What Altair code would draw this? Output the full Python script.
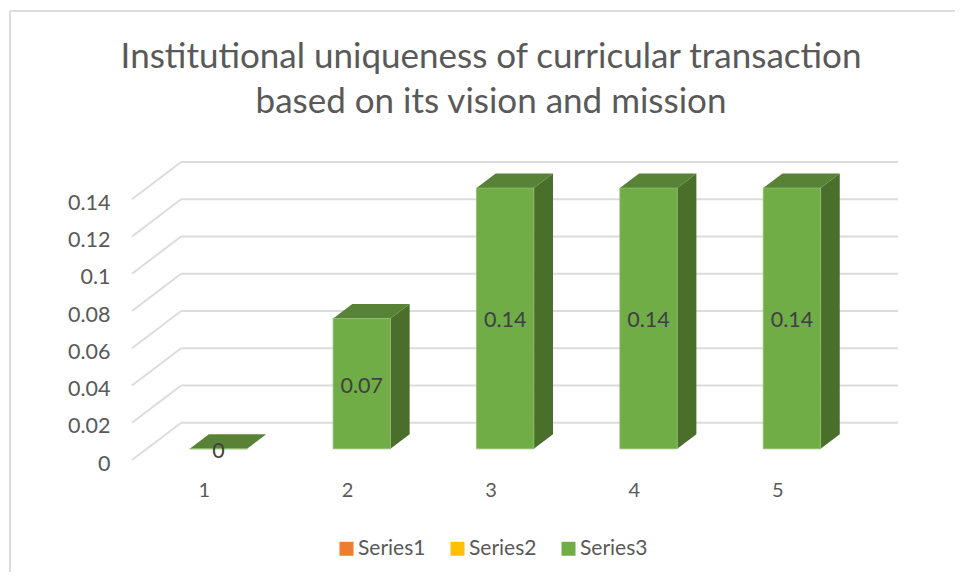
import altair as alt
import pandas as pd

TITLE = ["Institutional uniqueness of curricular transaction", "based on its vision and mission"]
categories = [1, 2, 3, 4, 5]
series_names = ["Series1", "Series2", "Series3"]
series_colors = ["#ED7D31", "#FFC000", "#70AD47"]
series3 = [0, 0.07, 0.14, 0.14, 0.14]
y_ticks = [0, 0.02, 0.04, 0.06, 0.08, 0.1, 0.12, 0.14]

# projection of the 3D box: one unit of depth moves by these amounts
DEPTH_X = 49 / 143
DEPTH_Y = 0.02
Z0, Z1 = 0.30, 0.69
BAR_W = 0.4
X_MIN, X_MAX = 0.5, 5.5 + DEPTH_X
FONT = "Lato"
GRID = "#DCDCDC"

x_scale = alt.Scale(domain=[X_MIN, X_MAX], nice=False, zero=False)
y_scale = alt.Scale(domain=[0, 0.16], nice=False, zero=False)

floor = pd.DataFrame({"x": [X_MIN], "y": [0]})

back = pd.DataFrame([{"x": X_MIN + DEPTH_X, "x2": X_MAX, "y": v + DEPTH_Y, "y2": v + DEPTH_Y} for v in y_ticks])
left = pd.DataFrame([{"x": X_MIN, "x2": X_MIN + DEPTH_X, "y": v, "y2": v + DEPTH_Y} for v in y_ticks])
grid = pd.concat([back, left])

front_rows, top_rows, side_rows, label_rows = [], [], [], []
for c, v in zip(categories, series3):
    x0 = c - BAR_W / 2 + Z0 * DEPTH_X
    x1 = c - BAR_W / 2 + Z1 * DEPTH_X
    y0, y1 = Z0 * DEPTH_Y, Z1 * DEPTH_Y
    front_rows.append({"x": x0, "x2": x0 + BAR_W, "y": y0, "y2": y0 + v, "series": "Series3"})
    top_rows += [
        {"c": c, "y": y0 + v, "x": x0, "x2": x0 + BAR_W},
        {"c": c, "y": y1 + v, "x": x1, "x2": x1 + BAR_W},
    ]
    side_rows += [
        {"c": c, "x": x0 + BAR_W, "y": y0, "y2": y0 + v},
        {"c": c, "x": x1 + BAR_W, "y": y1, "y2": y1 + v},
    ]
    label_rows.append({"x": x0 + BAR_W / 2, "y": y0 + v / 2, "v": v})

front = pd.DataFrame(front_rows)
top = pd.DataFrame(top_rows)
side = pd.DataFrame(side_rows)
labels = pd.DataFrame(label_rows)

X = lambda **k: alt.X("x:Q", scale=x_scale, **k)
Y = lambda **k: alt.Y("y:Q", scale=y_scale, **k)

grid_layer = alt.Chart(grid).mark_rule(color=GRID, strokeWidth=2).encode(
    x=X(
        axis=alt.Axis(
            values=categories, format="d", title=None, domain=False, ticks=False, grid=False,
            labelFont=FONT, labelFontSize=20, labelColor="#595959", labelPadding=20,
        )
    ),
    x2="x2:Q",
    y=Y(
        axis=alt.Axis(
            values=y_ticks, format="~g", title=None, domain=False, ticks=False, grid=False,
            labelFont=FONT, labelFontSize=21.5, labelColor="#595959", labelPadding=22, labelOffset=4,
        )
    ),
    y2="y2:Q",
)

side_layer = alt.Chart(side).mark_area(orient="vertical", color="#4A6F2B", interpolate="linear").encode(
    x=X(), y=Y(), y2="y2:Q", detail="c:N"
)
top_layer = alt.Chart(top).mark_area(orient="horizontal", color="#588235", interpolate="linear").encode(
    y=Y(), x=X(), x2="x2:Q", detail="c:N"
)
front_layer = alt.Chart(front).mark_rect(stroke="#8CBF6C", strokeWidth=0.8).encode(
    x=X(),
    x2="x2:Q",
    y=Y(),
    y2="y2:Q",
    color=alt.Color(
        "series:N",
        scale=alt.Scale(domain=series_names, range=series_colors),
        legend=alt.Legend(
            orient="none", legendX=204, legendY=376, direction="horizontal", title=None,
            symbolType="square", symbolSize=196, symbolStrokeWidth=0, symbolOpacity=1,
            labelFont=FONT, labelFontSize=21, labelColor="#595959", labelOffset=1,
            columnPadding=21, padding=0,
        ),
    ),
)
text_layer = alt.Chart(labels).mark_text(font=FONT, fontSize=21.5, color="#404040", baseline="middle", dy=3).encode(
    x=X(), y=Y(), text=alt.Text("v:Q", format="~g")
)

# chart-area frame of the original, in pixels from the plot origin
frame_top = alt.Chart(floor).mark_rule(color=GRID, strokeWidth=2).encode(
    x=alt.value(-122), x2=alt.value(823), y=alt.value(-151)
)
frame_left = alt.Chart(floor).mark_rule(color=GRID, strokeWidth=2).encode(
    x=alt.value(-122), y=alt.value(-151), y2=alt.value(410)
)

chart = (
    alt.layer(frame_top, frame_left, grid_layer, side_layer, top_layer, front_layer, text_layer)
    .properties(
        width=766,
        height=298,
        padding={"left": 124, "top": 154, "right": 57, "bottom": 112},
        autosize=alt.AutoSizeParams(type="none"),
        background="white",
        title=alt.TitleParams(
            text=TITLE, anchor="middle", dx=-24, offset=-110, font=FONT, fontSize=35,
            fontWeight="normal", color="#595959", lineHeight=45,
        ),
    )
    .configure_view(stroke=None)
)

chart.save("out.html", embed_options={"renderer": "svg", "actions": False})
